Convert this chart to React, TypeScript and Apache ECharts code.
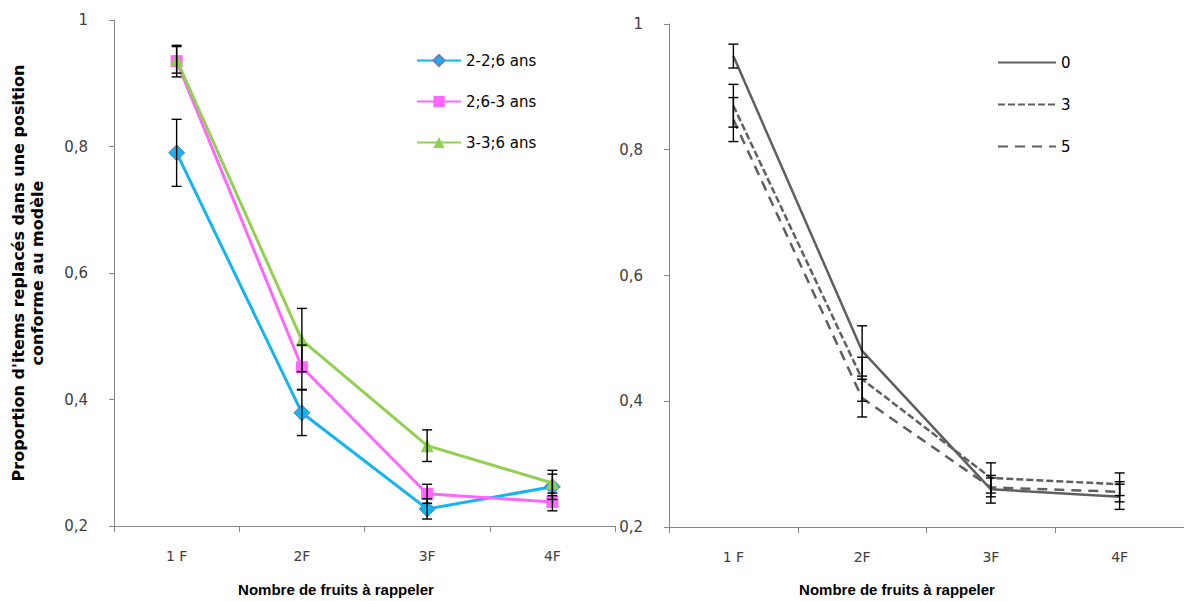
import React, { useEffect, useRef } from "react";
import * as echarts from "echarts";

const categories = ["1 F", "2F", "3F", "4F"];

// Left chart: age groups
const ageNames = ["2-2;6 ans", "2;6-3 ans", "3-3;6 ans"];
const ageA = [0.79, 0.379, 0.227, 0.262];
const ageAErr = [0.053, 0.036, 0.016, 0.02];
const ageB = [0.935, 0.451, 0.251, 0.238];
const ageBErr = [0.025, 0.035, 0.015, 0.014];
const ageC = [0.937, 0.494, 0.327, 0.268];
const ageCErr = [0.021, 0.05, 0.025, 0.02];

// Right chart: delay conditions
const delayNames = ["0", "3", "5"];
const delay0 = [0.949, 0.48, 0.26, 0.248];
const delay0Err = [0.019, 0.04, 0.022, 0.02];
const delay3 = [0.87, 0.435, 0.278, 0.268];
const delay3Err = [0.034, 0.035, 0.024, 0.018];
const delay5 = [0.848, 0.405, 0.263, 0.256];
const delay5Err = [0.035, 0.03, 0.015, 0.016];

const yTitleLine1 = "Proportion d'items replacés dans une position";
const yTitleLine2 = "conforme au modèle";
const xTitle = "Nombre de fruits à rappeler";

const FONT = "DejaVu Sans";
const BOLD_FONT = "Liberation Sans";

function errData(vals: number[], errs: number[]) {
  return vals.map((v, i) => [i, v - errs[i], v + errs[i]]);
}

function errSeries(vals: number[], errs: number[], axis: number) {
  return {
    type: "custom",
    xAxisIndex: axis,
    yAxisIndex: axis,
    z: 10,
    silent: true,
    encode: { x: 0, y: [1, 2] },
    data: errData(vals, errs),
    renderItem: (params: any, api: any) => {
      const x = api.value(0);
      const lo = api.coord([x, api.value(1)]);
      const hi = api.coord([x, api.value(2)]);
      const w = 5;
      const style = { stroke: "#000", lineWidth: 1.4 };
      return {
        type: "group",
        children: [
          { type: "line", shape: { x1: hi[0], y1: hi[1], x2: lo[0], y2: lo[1] }, style },
          { type: "line", shape: { x1: hi[0] - w, y1: hi[1], x2: hi[0] + w, y2: hi[1] }, style },
          { type: "line", shape: { x1: lo[0] - w, y1: lo[1], x2: lo[0] + w, y2: lo[1] }, style },
        ],
      };
    },
  };
}

function yLabel(v: number) {
  const r = Math.round(v * 10) / 10;
  return String(r).replace(".", ",");
}

export default function App() {
  const ref = useRef<HTMLDivElement>(null);
  useEffect(() => {
    if (!ref.current) return;
    const chart = echarts.init(ref.current, null, { renderer: "svg" });
    const axisLine = { show: true, lineStyle: { color: "#868686", width: 1 } };
    const xAxisCommon = {
      type: "category",
      data: categories,
      boundaryGap: true,
      axisLine,
      axisTick: { show: true, length: 6, lineStyle: { color: "#868686" } },
      axisLabel: { color: "#404040", fontSize: 14, fontFamily: FONT, margin: 23 },
      splitLine: { show: false },
    };
    const yAxisCommon = {
      type: "value",
      min: 0.2,
      max: 1,
      interval: 0.2,
      axisLine,
      axisTick: { show: true, length: 5, lineStyle: { color: "#868686" } },
      axisLabel: { color: "#404040", fontSize: 15, fontFamily: FONT, margin: 26, formatter: yLabel },
      splitLine: { show: false },
    };
    const ageColors = ["#14B4EE", "#FF66FF", "#92D050"];
    const gray = "#5f5f5f";
    const xTitleStyle = {
      text: xTitle,
      fontFamily: BOLD_FONT,
      fontWeight: "bold",
      fontSize: 15,
      fill: "#000",
      align: "center",
      verticalAlign: "middle",
    };
    chart.setOption({
      animation: false,
      backgroundColor: "#fff",
      grid: [
        { left: 114, top: 20, width: 501, height: 506 },
        { left: 669, top: 24, width: 515, height: 503 },
      ],
      xAxis: [
        { ...xAxisCommon, gridIndex: 0 },
        { ...xAxisCommon, gridIndex: 1 },
      ],
      yAxis: [
        { ...yAxisCommon, gridIndex: 0 },
        { ...yAxisCommon, gridIndex: 1 },
      ],
      legend: [
        {
          data: ageNames,
          orient: "vertical",
          left: 416,
          top: 53,
          itemWidth: 44,
          itemHeight: 14,
          itemGap: 26,
          padding: 0,
          textStyle: { fontSize: 15, fontFamily: FONT, color: "#000" },
        },
        {
          data: delayNames,
          orient: "vertical",
          left: 997,
          top: 55,
          itemWidth: 58,
          itemHeight: 14,
          itemGap: 27,
          padding: 0,
          itemStyle: { opacity: 0, borderWidth: 0 },
          textStyle: { fontSize: 15, fontFamily: FONT, color: "#000" },
        },
      ],
      graphic: [
        {
          type: "text",
          x: 28,
          y: 273,
          rotation: Math.PI / 2,
          style: {
            text: yTitleLine1 + "\n" + yTitleLine2,
            fontFamily: FONT,
            fontWeight: "bold",
            fontSize: 16,
            lineHeight: 19,
            fill: "#000",
            align: "center",
            verticalAlign: "middle",
          },
        },
        { type: "text", x: 336, y: 589, style: { ...xTitleStyle } },
        { type: "text", x: 897, y: 589, style: { ...xTitleStyle } },
      ],
      series: [
        {
          name: ageNames[0],
          type: "line",
          xAxisIndex: 0,
          yAxisIndex: 0,
          data: ageA,
          symbol: "diamond",
          symbolSize: 16,
          color: ageColors[0],
          lineStyle: { width: 3, color: ageColors[0] },
          itemStyle: { color: ageColors[0], borderColor: "#6F7BB8", borderWidth: 1 },
          z: 3,
        },
        {
          name: ageNames[1],
          type: "line",
          xAxisIndex: 0,
          yAxisIndex: 0,
          data: ageB,
          symbol: "rect",
          symbolSize: 12,
          color: ageColors[1],
          lineStyle: { width: 3, color: ageColors[1] },
          itemStyle: { color: ageColors[1] },
          z: 4,
        },
        {
          name: ageNames[2],
          type: "line",
          xAxisIndex: 0,
          yAxisIndex: 0,
          data: ageC,
          symbol: "triangle",
          symbolSize: 13,
          color: ageColors[2],
          lineStyle: { width: 3, color: ageColors[2] },
          itemStyle: { color: ageColors[2] },
          z: 5,
        },
        errSeries(ageA, ageAErr, 0),
        errSeries(ageB, ageBErr, 0),
        errSeries(ageC, ageCErr, 0),
        {
          name: delayNames[0],
          type: "line",
          xAxisIndex: 1,
          yAxisIndex: 1,
          data: delay0,
          showSymbol: false,
          color: gray,
          lineStyle: { width: 2.5, color: gray, type: "solid" },
        },
        {
          name: delayNames[1],
          type: "line",
          xAxisIndex: 1,
          yAxisIndex: 1,
          data: delay3,
          showSymbol: false,
          color: gray,
          lineStyle: { width: 2.5, color: gray, type: [7, 3] },
        },
        {
          name: delayNames[2],
          type: "line",
          xAxisIndex: 1,
          yAxisIndex: 1,
          data: delay5,
          showSymbol: false,
          color: gray,
          lineStyle: { width: 2.5, color: gray, type: [10, 7] },
        },
        errSeries(delay0, delay0Err, 1),
        errSeries(delay3, delay3Err, 1),
        errSeries(delay5, delay5Err, 1),
      ],
    });
    return () => chart.dispose();
  }, []);
  return (
    <div
      ref={ref}
      style={{ position: "absolute", left: 0, top: 0, width: 1184, height: 601, background: "#fff" }}
    />
  );
}
